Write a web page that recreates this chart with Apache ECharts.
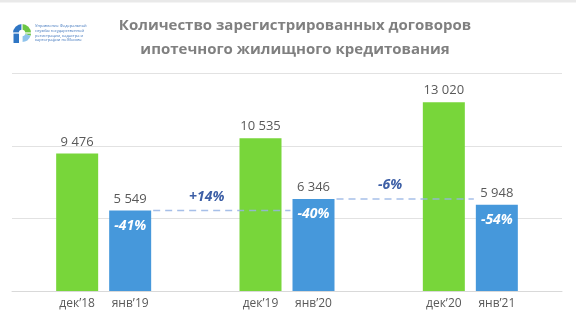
<!DOCTYPE html>
<html>
<head>
<meta charset="utf-8">
<script src="https://cdn.jsdelivr.net/npm/echarts@6/dist/echarts.min.js"></script>
<style>
  html, body { margin: 0; padding: 0; background: #ffffff; }
  #chart { width: 576px; height: 336px; }
</style>
</head>
<body>
<div id="chart"></div>
<script>
// Mortgage contract registrations: December vs following January
const groups = ['2018/19', '2019/20', '2020/21'];
const decLabels = ['дек’18', 'дек’19', 'дек’20'];
const janLabels = ['янв’19', 'янв’20', 'янв’21'];
const decValues = [9476, 10535, 13020];
const janValues = [5549, 6346, 5948];
const janVsDec = ['-41%', '-40%', '-54%'];   // January relative to the December before it
const janVsJan = ['+14%', '-6%'];            // January relative to the previous January
const yMin = 0, yMax = 15000, yStep = 5000;

const BAR_W = 42;
const BAR_GAP = 11;
const FONT = '"Open Sans", "Noto Sans", sans-serif';
const GREEN = '#78d63a';
const BLUE = '#4698db';

const fmt = v => String(v).replace(/\B(?=(\d{3})+(?!\d))/g, ' ');

const chart = echarts.init(document.getElementById('chart'), null, { renderer: 'canvas' });

chart.setOption({
  animation: false,
  backgroundColor: '#ffffff',
  grid: { left: 12, right: 14, top: 73.5, bottom: 45 },
  xAxis: {
    type: 'category',
    data: groups,
    axisLine: { lineStyle: { color: '#d9d9d9', width: 1 } },
    axisTick: { show: false },
    axisLabel: {
      margin: 7,
      formatter: (val, idx) => `{a|${decLabels[idx]}}{b|${janLabels[idx]}}`,
      rich: {
        a: { width: BAR_W + BAR_GAP, align: 'center', fontSize: 12, color: '#595959', fontFamily: FONT },
        b: { width: BAR_W + BAR_GAP, align: 'center', fontSize: 12, color: '#595959', fontFamily: FONT }
      }
    }
  },
  yAxis: {
    type: 'value',
    min: yMin, max: yMax, interval: yStep,
    axisLabel: { show: false },
    axisLine: { show: false },
    axisTick: { show: false },
    splitLine: { lineStyle: { color: '#e2e2e2', width: 1 } }
  },
  series: [
    {
      name: 'dec',
      type: 'bar',
      data: decValues,
      barWidth: BAR_W,
      barGap: (BAR_GAP / BAR_W * 100) + '%',
      itemStyle: { color: GREEN },
      label: {
        show: true, position: 'top', distance: 5,
        color: '#595959', fontSize: 13, fontFamily: FONT,
        formatter: p => fmt(p.value)
      },
      z: 2
    },
    {
      name: 'jan',
      type: 'bar',
      data: janValues,
      barWidth: BAR_W,
      itemStyle: { color: BLUE },
      label: {
        show: true, position: 'top', distance: 5,
        color: '#595959', fontSize: 13, fontFamily: FONT,
        formatter: p => fmt(p.value)
      },
      z: 2
    },
    {
      // percentage labels inside the January bars and dashed year-over-year connectors
      name: 'notes',
      type: 'custom',
      data: janValues.map((v, i) => [i, v]),
      encode: { x: 0, y: 1 },
      z: 5,
      silent: true,
      renderItem: (params, api) => {
        const i = api.value(0);
        const v = api.value(1);
        const half = (BAR_W + BAR_GAP) / 2;
        const p = api.coord([i, v]);
        const bx = p[0] + half;
        const children = [{
          type: 'text',
          style: {
            x: bx, y: p[1] + 15, text: janVsDec[i],
            fill: '#ffffff', font: `italic bold 14px ${FONT}`,
            textAlign: 'center', textVerticalAlign: 'middle'
          }
        }];
        if (i < janValues.length - 1) {
          const q = api.coord([i + 1, janValues[i + 1]]);
          const x1 = bx + BAR_W / 2 + 2;
          const x2 = q[0] + half - BAR_W / 2 - 2;
          children.push({
            type: 'line',
            shape: { x1: x1, y1: p[1], x2: x2, y2: p[1] },
            style: { stroke: 'rgba(150,180,228,0.85)', lineWidth: 1.6, lineDash: [7, 5] }
          });
          children.push({
            type: 'text',
            style: {
              x: x1 + (x2 - x1) * 0.39, y: p[1] - 14, text: janVsJan[i],
              fill: '#3d5fa6', font: `italic bold 14px ${FONT}`,
              textAlign: 'center', textVerticalAlign: 'middle'
            }
          });
        }
        return { type: 'group', children: children };
      }
    }
  ],
  graphic: [
    { type: 'rect', shape: { x: 0, y: 0, width: 576, height: 2.5 }, style: { fill: '#e9e9e9' } },
    {
      type: 'text', x: 295, y: 14,
      style: {
        text: 'Количество зарегистрированных договоров\nипотечного жилищного кредитования',
        fill: '#808080', font: `bold 15px ${FONT}`, lineHeight: 24,
        textAlign: 'center'
      }
    },
    // emblem
    { type: 'sector', shape: { cx: 22, cy: 33, r: 9, r0: 0, startAngle: Math.PI, endAngle: Math.PI * 1.5 }, style: { fill: '#2f76c4' } },
    { type: 'sector', shape: { cx: 22, cy: 33, r: 9, r0: 0, startAngle: Math.PI * 1.5, endAngle: Math.PI * 2.1 }, style: { fill: '#6cc644' } },
    { type: 'sector', shape: { cx: 22, cy: 33, r: 9, r0: 0, startAngle: Math.PI * 0.1, endAngle: Math.PI * 0.5 }, style: { fill: '#8fc3ec' } },
    { type: 'rect', shape: { x: 13.5, y: 33, width: 5.5, height: 10 }, style: { fill: '#2f76c4' } },
    { type: 'circle', shape: { cx: 22, cy: 33, r: 3.2 }, style: { fill: '#ffffff' } },
    { type: 'line', shape: { x1: 12, y1: 33, x2: 32, y2: 33 }, style: { stroke: '#ffffff', lineWidth: 1.2 } },
    { type: 'line', shape: { x1: 22, y1: 23, x2: 22, y2: 43 }, style: { stroke: '#ffffff', lineWidth: 1.2 } },
    {
      type: 'text', x: 35, y: 24,
      style: {
        text: 'Управление Федеральной\nслужбы государственной\nрегистрации, кадастра и\nкартографии по Москве',
        fill: '#3a72bb', font: `4px ${FONT}`, lineHeight: 4.6
      }
    }
  ]
});
</script>
</body>
</html>
